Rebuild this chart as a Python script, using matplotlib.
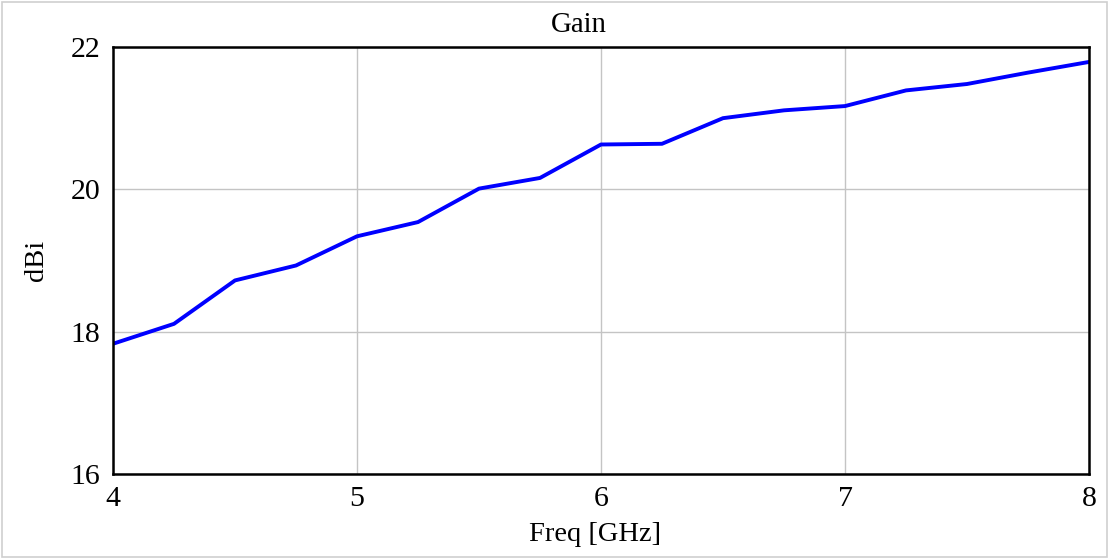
import matplotlib
matplotlib.use("Agg")
import matplotlib.pyplot as plt
from matplotlib.patches import Rectangle

# Gain vs frequency
freq_ghz = [4.0, 4.25, 4.5, 4.75, 5.0, 5.25, 5.5, 5.75, 6.0,
            6.25, 6.5, 6.75, 7.0, 7.25, 7.5, 7.75, 8.0]
gain_dbi = [17.83, 18.11, 18.72, 18.93, 19.34, 19.54, 20.01, 20.16, 20.63,
            20.64, 21.00, 21.11, 21.17, 21.39, 21.48, 21.64, 21.79]

x_ticks = [4, 5, 6, 7, 8]
y_ticks = [16, 18, 20, 22]

plt.rcParams["font.family"] = ["Liberation Serif", "DejaVu Serif"]

fig = plt.figure(figsize=(11.1, 5.59), dpi=100)
ax = fig.add_axes([113 / 1110, 1 - 474 / 559, (1089 - 113) / 1110, (474 - 47) / 559])

ax.plot(freq_ghz, gain_dbi, color="#0000ff", linewidth=2.8, solid_joinstyle="round")

ax.set_xlim(4, 8)
ax.set_ylim(16, 22)
ax.set_xticks(x_ticks)
ax.set_yticks(y_ticks)
ax.grid(True, color="#c4c4c4", linewidth=1.0)
ax.set_axisbelow(True)
ax.tick_params(length=0, labelsize=21.5)
ax.tick_params(axis="x", pad=9)
ax.tick_params(axis="y", pad=9)
for side in ax.spines.values():
    side.set_linewidth(1.8)
    side.set_color("black")

# title sits a little left of the axes centre in the original
ax.text(0.477, 1.035, "Gain", transform=ax.transAxes, fontsize=20.8,
        ha="center", va="baseline")
ax.set_xlabel("Freq [GHz]", fontsize=20.5)
ax.xaxis.set_label_coords(0.494, -0.112)
ax.set_ylabel("dBi", fontsize=20.5, labelpad=16)

# light frame around the whole picture
fig.patches.append(Rectangle((0.002, 0.003), 0.995, 0.994, transform=fig.transFigure,
                             fill=False, edgecolor="#cfcfcf", linewidth=1.2))

fig.savefig("out.png", dpi=100)
